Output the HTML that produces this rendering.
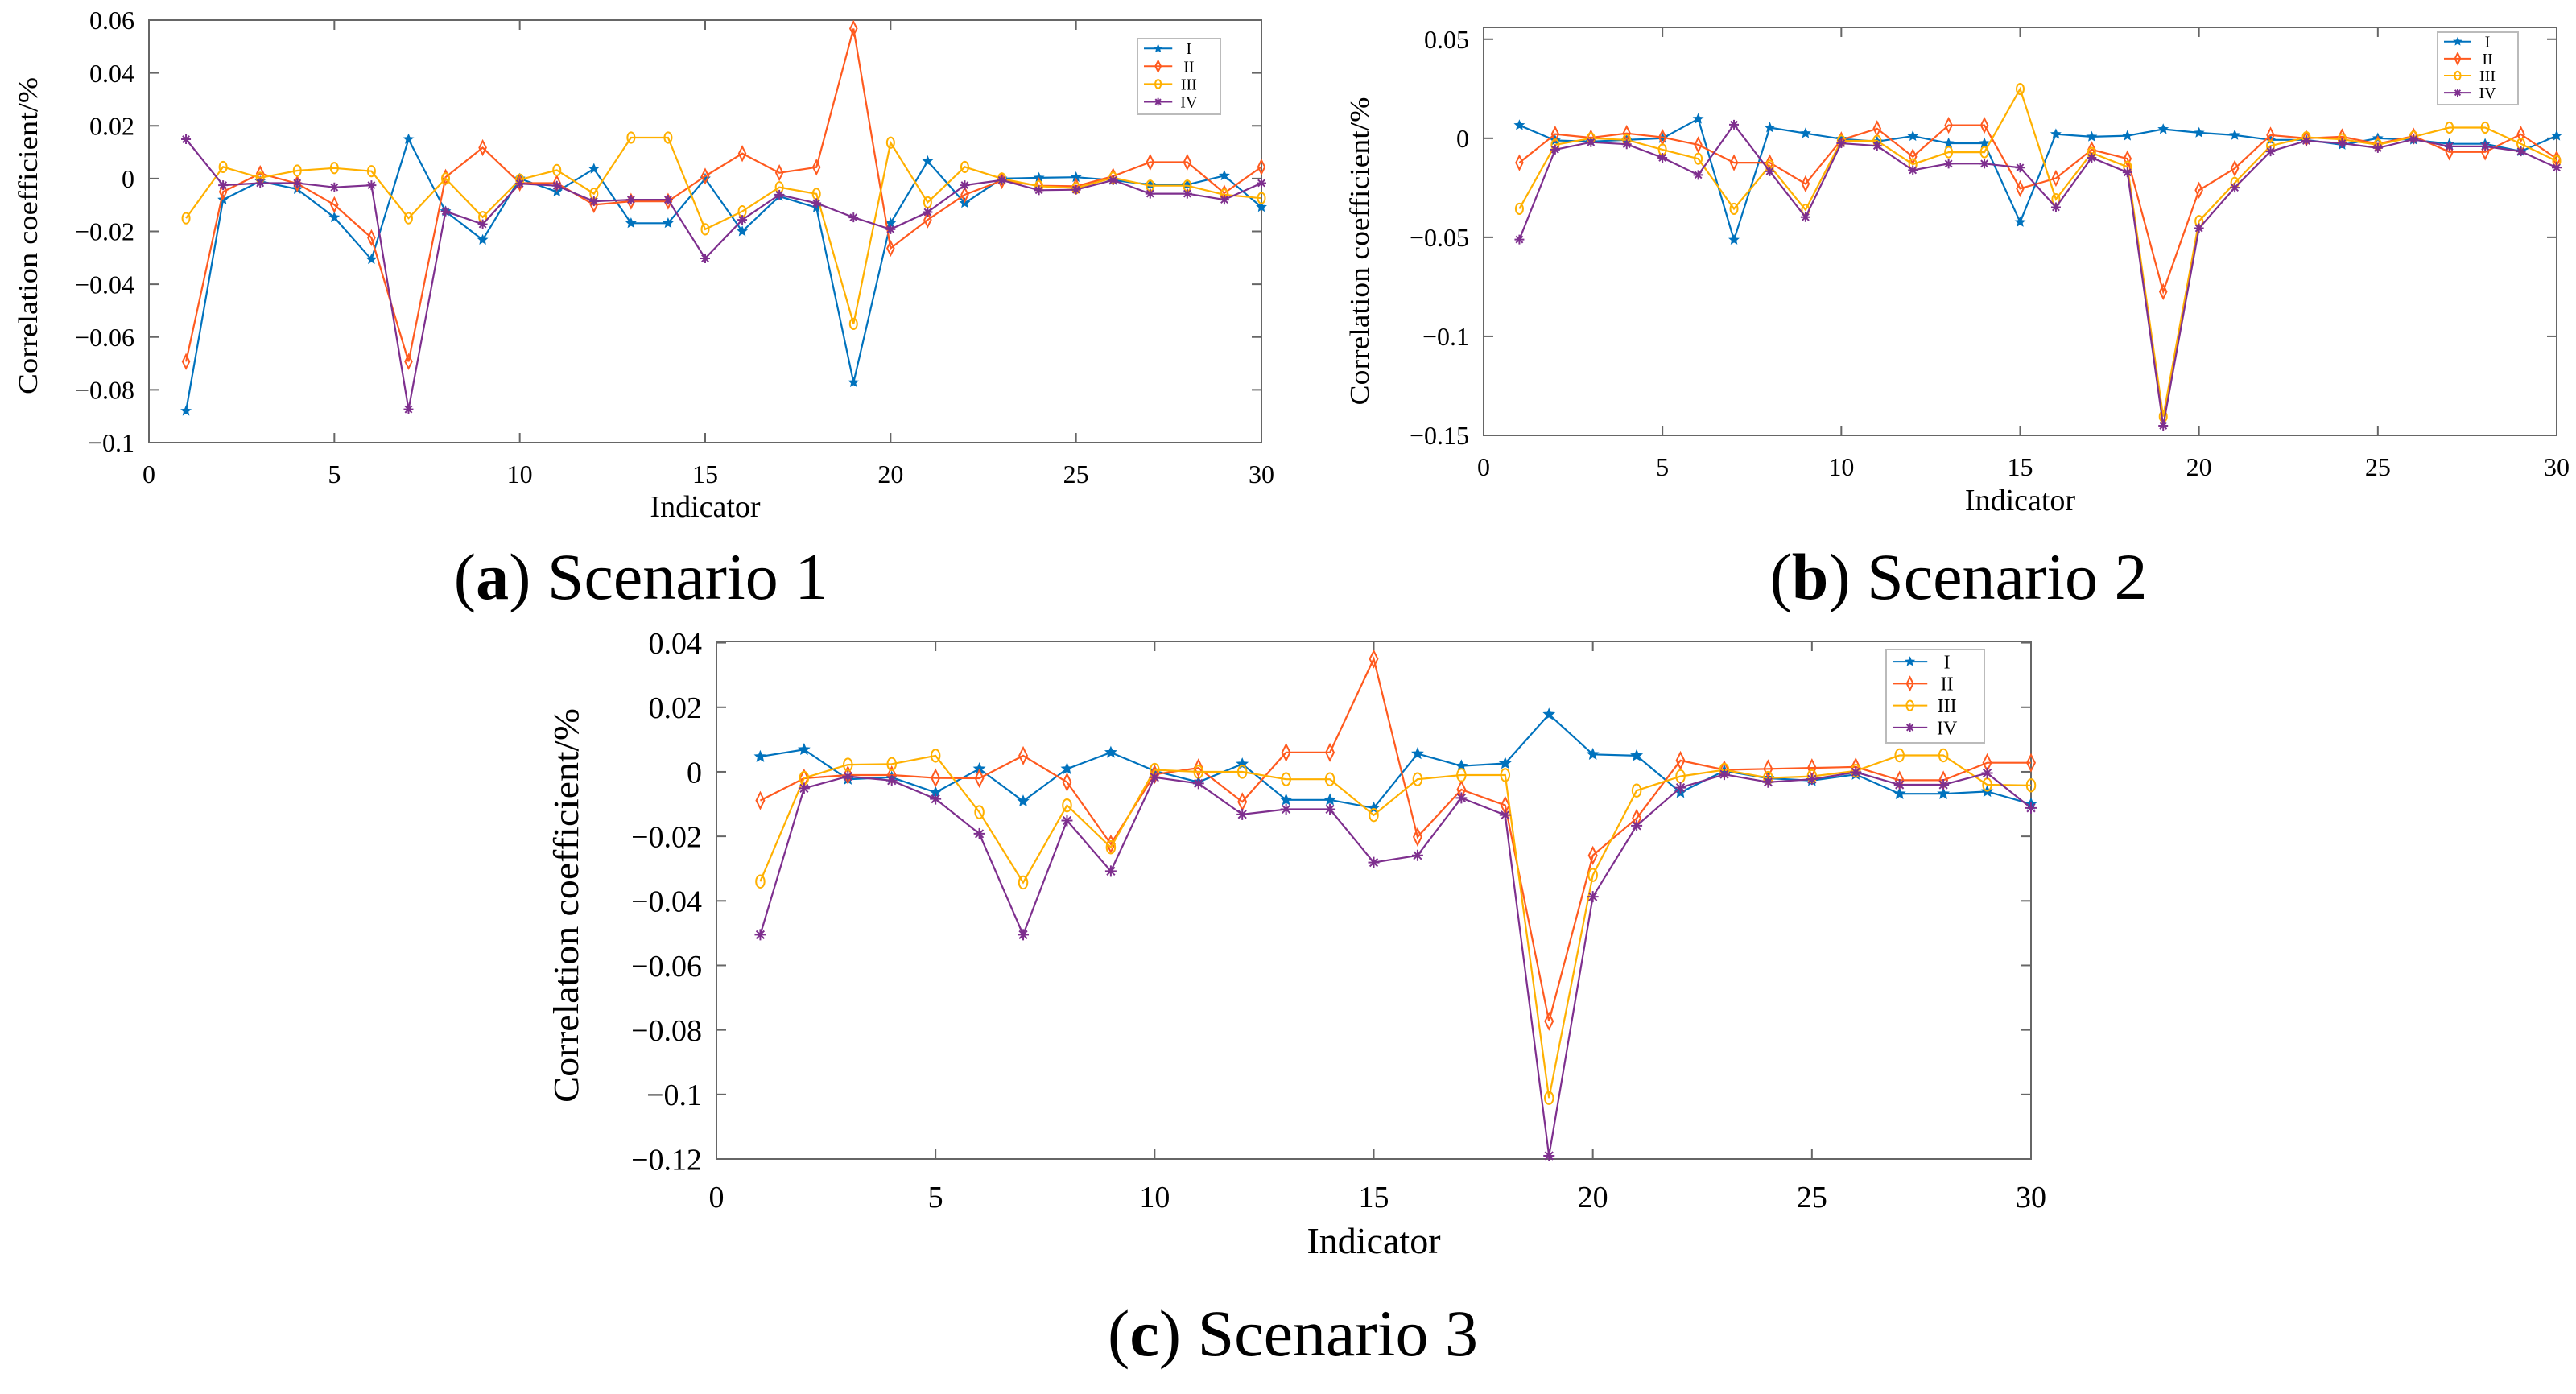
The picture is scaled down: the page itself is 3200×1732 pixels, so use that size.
<!DOCTYPE html>
<html><head><meta charset="utf-8"><style>
html,body{margin:0;padding:0;background:#fff}
svg{display:block}
</style></head><body>
<svg id="fig" width="3200" height="1732" viewBox="0 0 3200 1732" xmlns="http://www.w3.org/2000/svg" font-family="'Liberation Serif', serif">
<text x="796" y="744" font-size="82" text-anchor="middle">(<tspan font-weight="bold">a</tspan>) Scenario 1</text>
<text x="2433" y="744" font-size="82" text-anchor="middle">(<tspan font-weight="bold">b</tspan>) Scenario 2</text>
<text x="1606" y="1684" font-size="82" text-anchor="middle">(<tspan font-weight="bold">c</tspan>) Scenario 3</text>
</svg>
<script>
const indicators = [1,2,3,4,5,6,7,8,9,10,11,12,13,14,15,16,17,18,19,20,21,22,23,24,25,26,27,28,29,30];
const seriesNames = ["I","II","III","IV"];
const xTicks = [0,5,10,15,20,25,30];
const aTicksY = [0.06,0.04,0.02,0,-0.02,-0.04,-0.06,-0.08,-0.1];
const bTicksY = [0.05,0,-0.05,-0.1,-0.15];
const cTicksY = [0.04,0.02,0,-0.02,-0.04,-0.06,-0.08,-0.1,-0.12];
const aTickLabels = ["0.06","0.04","0.02","0","−0.02","−0.04","−0.06","−0.08","−0.1"];
const bTickLabels = ["0.05","0","−0.05","−0.1","−0.15"];
const cTickLabels = ["0.04","0.02","0","−0.02","−0.04","−0.06","−0.08","−0.1","−0.12"];
const aI = [-0.088,-0.008,-0.001,-0.004,-0.0147,-0.0306,0.0149,-0.0124,-0.0232,0,-0.005,0.0037,-0.0169,-0.0169,0,-0.02,-0.0067,-0.011,-0.0772,-0.0169,0.0066,-0.0093,0,0.0003,0.0005,-0.0006,-0.0023,-0.0023,0.0011,-0.0108];
const aII = [-0.0693,-0.005,0.0019,-0.0019,-0.0099,-0.0224,-0.0693,0.0005,0.0117,-0.0017,-0.0017,-0.0099,-0.0086,-0.0086,0.0009,0.0095,0.0022,0.0043,0.0568,-0.0264,-0.0156,-0.0061,-0.0008,-0.0027,-0.0029,0.0009,0.0062,0.0062,-0.0055,0.0044];
const aIII = [-0.015,0.0044,0.0003,0.003,0.004,0.0028,-0.015,0,-0.0146,-0.0004,0.0032,-0.0057,0.0155,0.0155,-0.0192,-0.0124,-0.0033,-0.0058,-0.055,0.0136,-0.009,0.0044,0,-0.0029,-0.0036,0.0003,-0.0027,-0.0027,-0.0061,-0.0074];
const aIV = [0.0149,-0.0025,-0.0017,-0.0017,-0.0033,-0.0025,-0.0874,-0.0124,-0.0173,-0.0019,-0.0027,-0.0086,-0.008,-0.008,-0.0302,-0.0156,-0.0061,-0.0093,-0.0147,-0.0192,-0.0127,-0.0025,-0.0006,-0.0044,-0.0042,-0.0006,-0.0057,-0.0057,-0.008,-0.0017];
const bI = [0.0066,-0.0011,-0.0016,-0.0008,0,0.0098,-0.0513,0.0054,0.0025,-0.0003,-0.0016,0.0011,-0.0025,-0.0025,-0.0423,0.0021,0.0008,0.0013,0.0046,0.0028,0.0016,-0.0008,-0.0008,-0.0033,0,-0.0008,-0.0028,-0.0028,-0.0066,0.0013];
const bII = [-0.0123,0.0021,0.0003,0.0025,0.0005,-0.0033,-0.0123,-0.0123,-0.023,-0.0008,0.0049,-0.0093,0.0066,0.0066,-0.0254,-0.0202,-0.0057,-0.0103,-0.0774,-0.0262,-0.0152,0.0016,0,0.0008,-0.0028,0.0011,-0.0069,-0.0069,0.002,-0.0103];
const bIII = [-0.0356,-0.0033,0,-0.0008,-0.0057,-0.0103,-0.0356,-0.0139,-0.0361,-0.0013,-0.0013,-0.0131,-0.007,-0.007,0.0249,-0.0308,-0.0074,-0.0144,-0.1405,-0.0418,-0.0225,-0.0038,0.0005,-0.0005,-0.0033,0.0008,0.0054,0.0054,-0.0028,-0.0115];
const bIV = [-0.0511,-0.0057,-0.002,-0.003,-0.0098,-0.0185,0.0069,-0.0167,-0.0398,-0.0025,-0.0038,-0.0161,-0.0128,-0.0128,-0.0148,-0.0348,-0.0098,-0.0172,-0.1451,-0.0454,-0.0249,-0.0066,-0.0013,-0.0025,-0.0049,-0.0005,-0.0041,-0.0041,-0.0066,-0.0148];
const cI = [0.0047,0.0069,-0.0023,-0.0017,-0.0064,0.0009,-0.0091,0.0009,0.006,0.0003,-0.0032,0.0024,-0.0087,-0.0087,-0.0112,0.0056,0.0018,0.0026,0.0178,0.0054,0.005,-0.0064,0.0003,-0.002,-0.0027,-0.0008,-0.0068,-0.0068,-0.0061,-0.01];
const cII = [-0.0089,-0.002,-0.001,-0.001,-0.0019,-0.002,0.005,-0.0032,-0.0224,-0.0008,0.0012,-0.0093,0.006,0.006,0.035,-0.0202,-0.0055,-0.0104,-0.0773,-0.0259,-0.0144,0.0035,0.0006,0.0009,0.0012,0.0015,-0.0026,-0.0026,0.0028,0.0028];
const cIII = [-0.034,-0.0019,0.0022,0.0024,0.005,-0.0125,-0.0343,-0.0104,-0.0234,0.0006,0,0,-0.0023,-0.0023,-0.0134,-0.0023,-0.001,-0.001,-0.1011,-0.032,-0.0058,-0.0014,0.0006,-0.0019,-0.0014,0.0003,0.0051,0.0051,-0.004,-0.0042];
const cIV = [-0.0505,-0.0051,-0.0014,-0.0027,-0.0084,-0.0192,-0.0505,-0.0151,-0.0308,-0.0017,-0.0036,-0.0132,-0.0116,-0.0116,-0.0281,-0.0259,-0.0081,-0.0134,-0.119,-0.0387,-0.0167,-0.0049,-0.0008,-0.0032,-0.0023,-0.0001,-0.004,-0.004,-0.0004,-0.0112];

const NS="http://www.w3.org/2000/svg";
const svg=document.getElementById('fig');
const colors=["#0072BD","#FF5A1F","#FFB000","#7E2F8E"];
function mk(tag,attrs,parent){const e=document.createElementNS(NS,tag);for(const k in attrs)e.setAttribute(k,attrs[k]);(parent||svg).appendChild(e);return e;}

function marker(g,kind,x,y,c,s){
  let e;
  if(kind===0){
    let p=[];for(let i=0;i<10;i++){const r=i%2?s*0.45:s;const a=-Math.PI/2+i*Math.PI/5;p.push((x+r*Math.cos(a)).toFixed(1)+","+(y+r*Math.sin(a)).toFixed(1));}
    e=mk('polygon',{points:p.join(' '),fill:c,stroke:c,'stroke-width':1},g);
  } else if(kind===1){
    e=mk('polygon',{points:`${x},${y-s*1.4} ${x+s*0.7},${y} ${x},${y+s*1.4} ${x-s*0.7},${y}`,fill:'none',stroke:c,'stroke-width':2},g);
  } else if(kind===2){
    e=mk('ellipse',{cx:x,cy:y,rx:s*0.75,ry:s*1.1,fill:'none',stroke:c,'stroke-width':2},g);
  } else {
    e=mk('path',{d:`M${x-s},${y}H${x+s}M${x},${y-s}V${y+s}M${x-s*0.7},${y-s*0.7}L${x+s*0.7},${y+s*0.7}M${x-s*0.7},${y+s*0.7}L${x+s*0.7},${y-s*0.7}`,stroke:c,'stroke-width':2},g);
  }
  
  
}

function chart(cfg){
  const g=mk('g',{});
  
  
  const X=v=>cfg.L+(v-0)/30*(cfg.R-cfg.L);
  const Y=v=>cfg.T+(cfg.ymax-v)/(cfg.ymax-cfg.ymin)*(cfg.B-cfg.T);
  const frame=mk('rect',{x:cfg.L,y:cfg.T,width:cfg.R-cfg.L,height:cfg.B-cfg.T,fill:'#fff',stroke:'#666','stroke-width':2},g);
  
  
  const tl=12;
  xTicks.forEach(t=>{
    const x=X(t);
    if(t>0&&t<30){mk('line',{x1:x,y1:cfg.B,x2:x,y2:cfg.B-tl,stroke:'#666','stroke-width':2},g);mk('line',{x1:x,y1:cfg.T,x2:x,y2:cfg.T+tl,stroke:'#666','stroke-width':2},g);}
    const lab=mk('text',{x:x,y:cfg.xlabY,'font-size':cfg.tf,'text-anchor':'middle'},g);
    lab.textContent=t;
    
    
  });
  cfg.ticks.forEach((t,i)=>{
    const y=Y(t);
    mk('line',{x1:cfg.L,y1:y,x2:cfg.L+tl,y2:y,stroke:'#666','stroke-width':2},g);
    mk('line',{x1:cfg.R,y1:y,x2:cfg.R-tl,y2:y,stroke:'#666','stroke-width':2},g);
    const lab=mk('text',{x:cfg.L-18,y:y+cfg.tf*0.35,'font-size':cfg.tf,'text-anchor':'end'},g);
    lab.textContent=cfg.labels[i];
    
    
  });
  const xt=mk('text',{x:(cfg.L+cfg.R)/2,y:cfg.xtY,'font-size':cfg.xtf,'text-anchor':'middle'},g);
  xt.textContent='Indicator';
  
  
  const yt=mk('text',{x:0,y:0,'font-size':cfg.ytf,'text-anchor':'middle',transform:`translate(${cfg.ytX},${cfg.ytY}) rotate(-90)`,textLength:cfg.ytLen,lengthAdjust:'spacingAndGlyphs'},g);
  yt.textContent='Correlation coefficient/%';
  
  
  cfg.series.forEach((vals,si)=>{
    const sg=mk('g',{},g);
    
    
    const pts=vals.map((v,i)=>X(indicators[i]).toFixed(1)+','+Y(v).toFixed(1)).join(' ');
    const pl=mk('polyline',{points:pts,fill:'none',stroke:colors[si],'stroke-width':2.2},sg);
    
    
    vals.forEach((v,i)=>marker(sg,si,X(indicators[i]),Y(v),colors[si],cfg.ms));
  });
  const lg=mk('g',{},g);
  
  
  const [lx,ly,lw,lh]=cfg.leg;
  mk('rect',{x:lx,y:ly,width:lw,height:lh,fill:'#fff',stroke:'#bbb','stroke-width':2},lg);
  seriesNames.forEach((n,i)=>{
    const yy=ly+lh*(0.13+i*0.235);
    const e=mk('g',{},lg);
    
    
    mk('line',{x1:lx+8,y1:yy,x2:lx+lw*0.42,y2:yy,stroke:colors[i],'stroke-width':2},e);
    marker(e,i,lx+8+(lw*0.42-8)/2,yy,colors[i],cfg.ms*0.8);
    const t=mk('text',{x:lx+lw*0.62,y:yy+cfg.lf*0.35,'font-size':cfg.lf,'text-anchor':'middle'},e);
    t.textContent=n;
  });
}

chart({name:'chart-scenario-1',L:185,R:1567,T:25,B:550,ymin:-0.1,ymax:0.06,ticks:aTicksY,labels:aTickLabels,
  series:[aI,aII,aIII,aIV],tf:32,xlabY:600,xtY:642,xtf:38,ytX:46,ytY:293,ytf:34,ytLen:394,ms:6,leg:[1413,48,103,94],lf:20});
chart({name:'chart-scenario-2',L:1843,R:3176,T:34,B:541,ymin:-0.15,ymax:0.056,ticks:bTicksY,labels:bTickLabels,
  series:[bI,bII,bIII,bIV],tf:32,xlabY:591,xtY:634,xtf:38,ytX:1700,ytY:312,ytf:34,ytLen:383,ms:6,leg:[3028,40,100,90],lf:20});
chart({name:'chart-scenario-3',L:890,R:2523,T:797,B:1440,ymin:-0.12,ymax:0.0404,ticks:cTicksY,labels:cTickLabels,
  series:[cI,cII,cIII,cIV],tf:38,xlabY:1500,xtY:1557,xtf:46,ytX:718,ytY:1125,ytf:44,ytLen:490,ms:7,leg:[2343,807,122,116],lf:24});
</script>
</body></html>
